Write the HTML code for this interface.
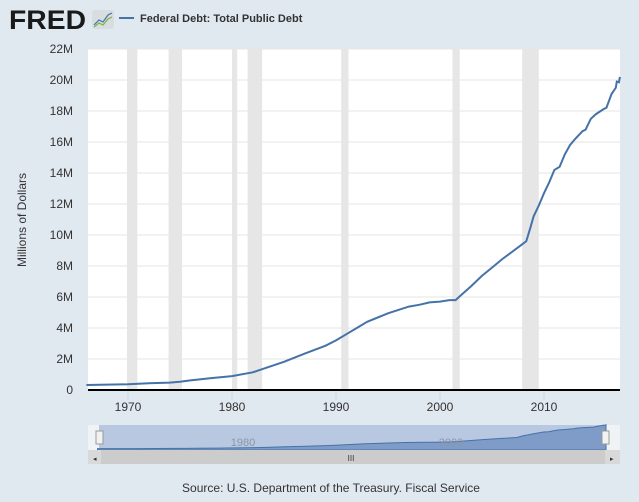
<!DOCTYPE html>
<html><head><meta charset="utf-8"><style>
body{margin:0;background:#e1e9f0;font-family:"Liberation Sans",sans-serif;}
svg text{font-family:"Liberation Sans",sans-serif;}
</style></head><body>
<svg width="639" height="497" xmlns="http://www.w3.org/2000/svg">
<rect width="639" height="497" fill="#e1e9f0"/>
<g>
<text x="9" y="29" font-size="27" font-weight="bold" fill="#1a1a1a" textLength="77" lengthAdjust="spacingAndGlyphs">FRED</text>
<rect x="92" y="10" width="22" height="19" rx="3" fill="#d8dde0"/>
<polyline points="94,25 99,20 103,22 108,15 112,13" fill="none" stroke="#4572a7" stroke-width="1.2"/>
<polyline points="94,27 99,23 103,25 108,19 112,17" fill="none" stroke="#7ab24a" stroke-width="1.2"/>
</g>
<g>
<line x1="119" y1="18" x2="134" y2="18" stroke="#4572a7" stroke-width="2"/>
<text x="140" y="22" font-size="11" font-weight="bold" fill="#333">Federal Debt: Total Public Debt</text>
</g>
<rect x="88" y="49" width="532" height="341" fill="#fff"/>
<g id="rec"></g><g id="grid"></g><g id="yl"></g><g id="xl"></g>
<path id="line" fill="none" stroke="#4572a7" stroke-width="2"/>
<line x1="88" y1="390" x2="620" y2="390" stroke="#000" stroke-width="2"/>
<text transform="translate(26,220) rotate(-90)" text-anchor="middle" font-size="12" fill="#333">Millions of Dollars</text>
<g>
<rect x="88" y="425" width="532" height="25" fill="#f0f3f6"/>
<rect x="99" y="425" width="507" height="25" fill="#b8c8e0"/>
<path id="nav" fill="#7f9cc8" stroke="#4572a7" stroke-width="1"/>
<text x="243" y="446" font-size="11" fill="#8a96a8" text-anchor="middle">1980</text>
<text x="451" y="446" font-size="11" fill="#8a96a8" text-anchor="middle">2000</text>
<rect x="96" y="431" width="7" height="13" fill="#f2f2f2" stroke="#999"/>
<rect x="602" y="431" width="7" height="13" fill="#f2f2f2" stroke="#999"/>
</g>
<g>
<rect x="88" y="450" width="532" height="14" fill="#d9d9d9"/>
<rect x="101" y="450" width="504" height="14" fill="#cccccc"/>
<text x="351" y="461" font-size="8" text-anchor="middle" fill="#333">III</text>
<text x="93" y="461" font-size="7" fill="#333">◂</text>
<text x="610" y="461" font-size="7" fill="#333">▸</text>
</g>
<text x="331" y="492" text-anchor="middle" font-size="12" fill="#333">Source: U.S. Department of the Treasury. Fiscal Service</text>
</svg>
<script>
const years=[1966,1968,1970,1972,1974,1975,1976,1978,1980,1982,1983,1985,1987,1989,1990,1991,1992,1993,1995,1997,1998,1999,2000,2000.9,2001.5,2002,2003,2004,2005,2006,2007,2007.9,2008.3,2008.7,2009,2009.5,2010,2010.5,2011,2011.5,2012,2012.5,2013,2013.7,2014,2014.5,2015,2015.8,2016,2016.5,2016.9,2017,2017.2,2017.3];
const debt=[0.32,0.35,0.37,0.43,0.48,0.53,0.62,0.77,0.9,1.14,1.37,1.82,2.35,2.86,3.2,3.6,4.0,4.4,4.95,5.38,5.5,5.65,5.7,5.8,5.8,6.1,6.7,7.35,7.9,8.45,8.95,9.4,9.6,10.5,11.2,11.9,12.7,13.4,14.2,14.4,15.2,15.8,16.2,16.7,16.8,17.5,17.8,18.15,18.2,19.1,19.5,19.9,19.85,20.2];
const yTicks=[0,2,4,6,8,10,12,14,16,18,20,22];
const xTicks=[1970,1980,1990,2000,2010];
const recessions=[[1969.9,1970.9],[1973.9,1975.2],[1980.0,1980.5],[1981.5,1982.9],[1990.5,1991.2],[2001.2,2001.9],[2007.9,2009.5]];
const X=y=>128+(y-1970)*10.4, Y=v=>390-v*15.5;
const NX=y=>99+(y-1966.15)*(507/51.15), NY=v=>449-v*1.2;
const ns="http://www.w3.org/2000/svg";
function mk(t,a,p){const e=document.createElementNS(ns,t);for(const k in a)e.setAttribute(k,a[k]);document.getElementById(p).appendChild(e);return e;}
recessions.forEach(r=>{const e=mk('rect',{x:X(r[0]),y:49,width:X(r[1])-X(r[0]),height:341,fill:'#e6e6e6'},'rec');

});
yTicks.forEach(v=>{if(v>0){const g=mk('line',{x1:88,x2:620,y1:Y(v),y2:Y(v),stroke:'#e6e6e6'},'grid');

}
const t=mk('text',{x:73,y:Y(v)+4,'text-anchor':'end','font-size':12,fill:'#333'},'yl');t.textContent=v+(v?'M':'');

});
xTicks.forEach(y=>{mk('line',{x1:X(y),x2:X(y),y1:390,y2:400,stroke:'#ccd6eb'},'xl');
const t=mk('text',{x:X(y),y:411,'text-anchor':'middle','font-size':12,fill:'#333'},'xl');t.textContent=y;

});
document.getElementById('line').setAttribute('d',years.map((y,i)=>(i?'L':'M')+X(y).toFixed(1)+','+Y(debt[i]).toFixed(1)).join(''));
document.getElementById('nav').setAttribute('d','M'+NX(years[0])+',450'+years.map((y,i)=>'L'+NX(y).toFixed(1)+','+NY(debt[i]).toFixed(1)).join('')+'L'+NX(years[years.length-1])+',450Z');
</script>
</body></html>
